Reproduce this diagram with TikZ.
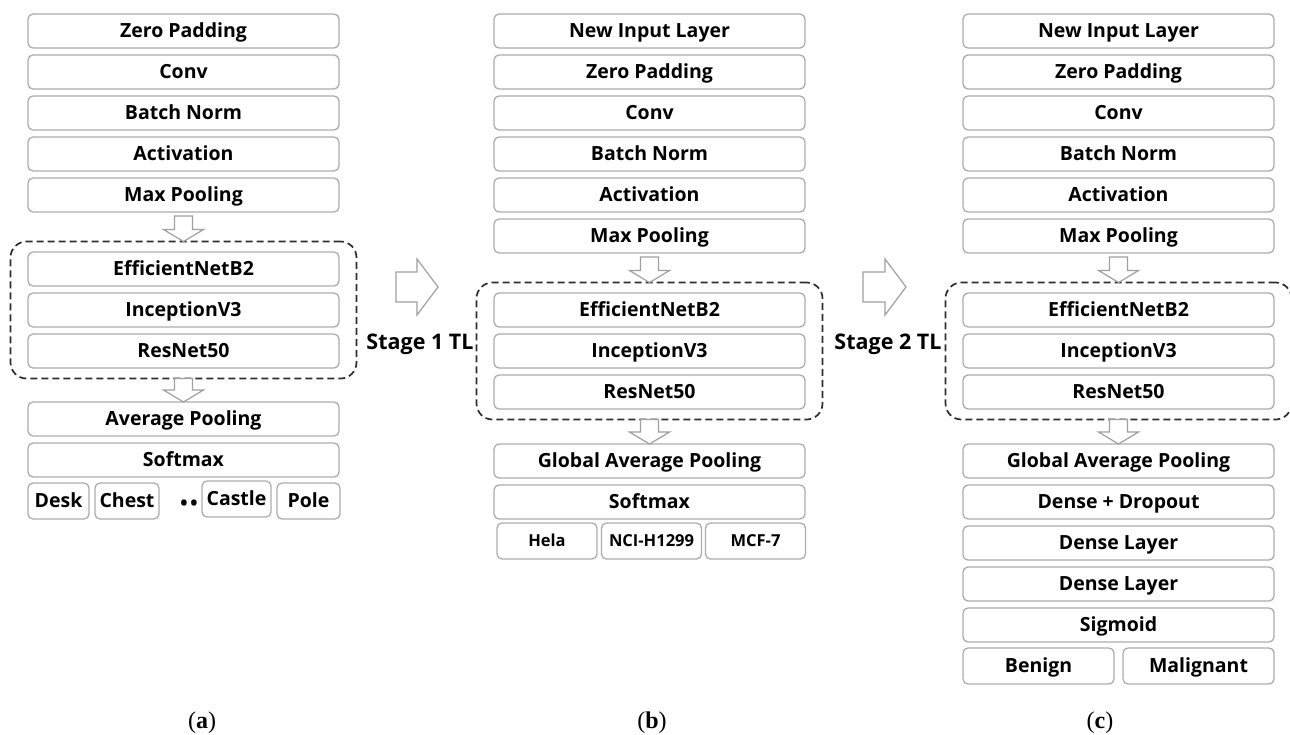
\documentclass[tikz,border=0pt]{standalone}
\usepackage{fontspec}
\setmainfont{Liberation Serif}
\newfontfamily\layerfont{Open Sans}
\usepackage{xcolor}
\usetikzlibrary{positioning,fit,calc}
\definecolor{boxgray}{RGB}{172,172,172}
\definecolor{dashgray}{RGB}{45,45,45}
\definecolor{arrowgray}{RGB}{160,160,160}
\tikzset{
	layer/.style={draw=boxgray, line width=1.3pt, rounded corners=5pt,
		minimum width=311pt, minimum height=34pt, inner sep=0pt, outer sep=0pt,
		text height=14pt, text depth=0.8pt,
		font=\layerfont\bfseries\fontsize{19.5}{22}\selectfont},
	classbox/.style={layer, minimum height=36pt},
	smallclass/.style={classbox, text height=11.8pt, text depth=0.7pt,
		font=\layerfont\bfseries\fontsize{16.5}{19}\selectfont},
	modelgroup/.style={draw=dashgray, line width=1.7pt, dash pattern=on 7pt off 4pt,
		rounded corners=16pt, inner xsep=17.5pt, inner ysep=10.5pt, outer sep=0pt},
	hollow/.style={draw=arrowgray, line width=1.2pt, fill=white, line join=miter},
	stagelabel/.style={font=\layerfont\bfseries\fontsize{21.5}{25}\selectfont, inner sep=0pt},
	caption/.style={font=\fontsize{24}{28}\selectfont, inner sep=0pt}
}

\begin{document}
\begin{tikzpicture}[x=1pt, y=-1pt]
		\useasboundingbox (0,0) rectangle (1290,734);
		\def\hollowdown#1#2{ % #1 start, #2 tip
			\draw[hollow] ($(#1)+(-9,0)$) -- ($(#2)+(-9,-12)$) -- ($(#2)+(-20,-12)$) -- (#2)
				-- ($(#2)+(20,-12)$) -- ($(#2)+(9,-12)$) -- ($(#1)+(9,0)$) -- cycle;
		}
		\def\hollowright#1#2{ % #1 start, #2 tip
			\draw[hollow] ($(#1)+(0,-15)$) -- ($(#2)+(-21,-15)$) -- ($(#2)+(-21,-28)$) -- (#2)
				-- ($(#2)+(-21,28)$) -- ($(#2)+(-21,15)$) -- ($(#1)+(0,15)$) -- cycle;
		}
		
		% (a) pretrained network
		\node[layer] (zp_a) at (183.5,31) {Zero Padding};
		\node[layer, below=7pt of zp_a] (conv_a) {Conv};
		\node[layer, below=7pt of conv_a] (bn_a) {Batch Norm};
		\node[layer, below=7pt of bn_a] (act_a) {Activation};
		\node[layer, below=7pt of act_a] (mp_a) {Max Pooling};
		\node[layer, below=40pt of mp_a] (eff_a) {EfficientNetB2};
		\node[layer, below=7pt of eff_a] (inc_a) {InceptionV3};
		\node[layer, below=7pt of inc_a] (res_a) {ResNet50};
		\node[modelgroup, fit=(eff_a)(res_a)] (dash_a) {};
		\node[layer, below=34pt of res_a] (avg_a) {Average Pooling};
		\node[layer, below=7pt of avg_a] (soft_a) {Softmax};
		\node[classbox, minimum width=61pt] (desk) at (58.5,501) {Desk};
		\node[classbox, minimum width=64pt] (chest) at (127,501) {Chest};
		\node[inner sep=0pt, font=\layerfont\fontsize{26}{28}\selectfont] (dots) at (189,506) {••};
		\node[classbox, minimum width=69pt] (castle) at (236.5,499) {Castle};
		\node[classbox, minimum width=63pt] (pole) at (308.5,501) {Pole};
		\hollowdown{$(mp_a.south)+(0,4)$}{dash_a.north}
		\hollowdown{dash_a.south}{avg_a.north}
		
		% stage 1
		\coordinate (s1) at (396,287);
		\coordinate (t1) at (438,287);
		\hollowright{s1}{t1}
		\node[stagelabel] (stage1) at (420,344) {Stage 1 TL};
		
		% (b) first transfer
		\node[layer] (in_b) at (649.5,31) {New Input Layer};
		\node[layer, below=7pt of in_b] (zp_b) {Zero Padding};
		\node[layer, below=7pt of zp_b] (conv_b) {Conv};
		\node[layer, below=7pt of conv_b] (bn_b) {Batch Norm};
		\node[layer, below=7pt of bn_b] (act_b) {Activation};
		\node[layer, below=7pt of act_b] (mp_b) {Max Pooling};
		\node[layer, below=40pt of mp_b] (eff_b) {EfficientNetB2};
		\node[layer, below=7pt of eff_b] (inc_b) {InceptionV3};
		\node[layer, below=7pt of inc_b] (res_b) {ResNet50};
		\node[modelgroup, fit=(eff_b)(res_b)] (dash_b) {};
		\node[layer, below=35pt of res_b] (gap_b) {Global Average Pooling};
		\node[layer, below=7pt of gap_b] (soft_b) {Softmax};
		\node[smallclass, minimum width=100pt] (hela) at (547,541) {Hela};
		\node[smallclass, minimum width=100pt] (nci) at (651.5,541) {NCI-H1299};
		\node[smallclass, minimum width=100pt] (mcf) at (755.5,541) {MCF-7};
		\hollowdown{$(mp_b.south)+(0,4)$}{dash_b.north}
		\hollowdown{dash_b.south}{gap_b.north}
		
		% stage 2
		\coordinate (s2) at (863,287);
		\coordinate (t2) at (906,287);
		\hollowright{s2}{t2}
		\node[stagelabel] (stage2) at (888,344) {Stage 2 TL};
		
		% (c) second transfer
		\node[layer] (in_c) at (1118.5,31) {New Input Layer};
		\node[layer, below=7pt of in_c] (zp_c) {Zero Padding};
		\node[layer, below=7pt of zp_c] (conv_c) {Conv};
		\node[layer, below=7pt of conv_c] (bn_c) {Batch Norm};
		\node[layer, below=7pt of bn_c] (act_c) {Activation};
		\node[layer, below=7pt of act_c] (mp_c) {Max Pooling};
		\node[layer, below=40pt of mp_c] (eff_c) {EfficientNetB2};
		\node[layer, below=7pt of eff_c] (inc_c) {InceptionV3};
		\node[layer, below=7pt of inc_c] (res_c) {ResNet50};
		\node[modelgroup, fit=(eff_c)(res_c)] (dash_c) {};
		\node[layer, below=35pt of res_c] (gap_c) {Global Average Pooling};
		\node[layer, below=7pt of gap_c] (drop_c) {Dense + Dropout};
		\node[layer, below=7pt of drop_c] (dense1_c) {Dense Layer};
		\node[layer, below=7pt of dense1_c] (dense2_c) {Dense Layer};
		\node[layer, below=7pt of dense2_c] (sig_c) {Sigmoid};
		\node[classbox, minimum width=151pt] (benign) at (1038.5,666) {Benign};
		\node[classbox, minimum width=151pt] (malignant) at (1198.5,666) {Malignant};
		\hollowdown{$(mp_c.south)+(0,4)$}{dash_c.north}
		\hollowdown{dash_c.south}{gap_c.north}
		
		% captions
		\node[caption] (cap_a) at (202,723) {(\textbf{a})};
		\node[caption] (cap_b) at (652,723) {(\textbf{b})};
		\node[caption] (cap_c) at (1100,723) {(\textbf{c})};
	\end{tikzpicture}
\end{document}
